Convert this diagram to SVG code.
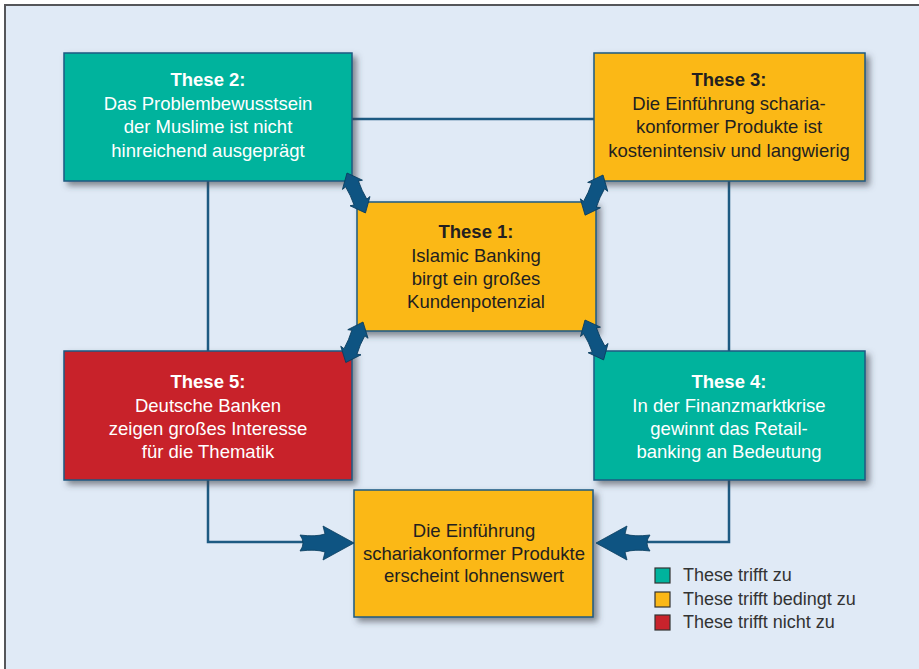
<svg xmlns="http://www.w3.org/2000/svg" width="919" height="669" viewBox="0 0 919 669">
<defs>
<filter id="sh" x="-10%" y="-10%" width="125%" height="130%">
<feDropShadow dx="4" dy="4" stdDeviation="3" flood-color="#3a3f4a" flood-opacity="0.6"/>
</filter>
<path id="dbl" d="M0,0 L13,-11 L12,-7 Q22,-6 32,-7 L31,-11 L44,0 L31,11 L32,7 Q22,6 12,7 L13,11 Z"/>
<path id="blk" d="M0,-8 Q16,-6 25,-9 L23,-17 L54,0 L23,17 L25,9 Q16,6 0,8 Q6,0 0,-8 Z"/>
</defs>
<style>
.bg{fill:#e0eaf6}
.box{stroke:#1d5a82;stroke-width:1.5;filter:url(#sh)}
.teal{fill:#00b39d}
.orange{fill:#fbb817}
.red{fill:#c8232c}
.t{font-family:"Liberation Sans",Arial,sans-serif;font-size:18.5px;text-anchor:middle}
.w{fill:#ffffff}
.d{fill:#231f20}
.b{font-weight:bold}
.conn{fill:none;stroke:#1d5a82;stroke-width:2.5}
.arr{fill:#0e5482;stroke:#0a3d5e;stroke-width:0.8}
.leg{font-family:"Liberation Sans",Arial,sans-serif;font-size:18px;fill:#333333}
.sq{stroke:#333333;stroke-width:1.2}
</style>
<rect x="5" y="5" width="1000" height="1000" class="bg" stroke="#55565a" stroke-width="2"/>
<g id="connectors">
<line x1="352" y1="119" x2="594" y2="119" class="conn"/>
<line x1="208" y1="181" x2="208" y2="351" class="conn"/>
<line x1="729" y1="181" x2="729" y2="351" class="conn"/>
<polyline points="208,480 208,542 305,542" class="conn"/>
<polyline points="729,480 729,542 640,542" class="conn"/>
</g>
<g id="these2"><rect x="64" y="53" width="288" height="128" class="box teal"/>
<text class="t w b" x="208" y="86">These 2:</text>
<text class="t w" x="208" y="110">Das Problembewusstsein</text>
<text class="t w" x="208" y="133">der Muslime ist nicht</text>
<text class="t w" x="208" y="157">hinreichend ausgeprägt</text></g>
<g id="these3"><rect x="594" y="53" width="271" height="128" class="box orange"/>
<text class="t d b" x="729" y="86">These 3:</text>
<text class="t d" x="729" y="110">Die Einführung scharia-</text>
<text class="t d" x="729" y="133">konformer Produkte ist</text>
<text class="t d" x="729" y="157">kostenintensiv und langwierig</text></g>
<g id="these5"><rect x="64" y="351" width="288" height="129" class="box red"/>
<text class="t w b" x="208" y="388">These 5:</text>
<text class="t w" x="208" y="412">Deutsche Banken</text>
<text class="t w" x="208" y="435">zeigen großes Interesse</text>
<text class="t w" x="208" y="458">für die Thematik</text></g>
<g id="these4"><rect x="594" y="351" width="271" height="129" class="box teal"/>
<text class="t w b" x="729" y="388">These 4:</text>
<text class="t w" x="729" y="412">In der Finanzmarktkrise</text>
<text class="t w" x="729" y="435">gewinnt das Retail-</text>
<text class="t w" x="729" y="458">banking an Bedeutung</text></g>
<g id="these1"><rect x="357" y="202" width="239" height="129" class="box orange"/>
<text class="t d b" x="476" y="238">These 1:</text>
<text class="t d" x="476" y="262">Islamic Banking</text>
<text class="t d" x="476" y="285">birgt ein großes</text>
<text class="t d" x="476" y="308">Kundenpotenzial</text></g>
<g id="result"><rect x="354" y="490" width="239" height="127" class="box orange"/>
<text class="t d" x="474" y="537">Die Einführung</text>
<text class="t d" x="474" y="560">schariakonformer Produkte</text>
<text class="t d" x="474" y="582">erscheint lohnenswert</text></g>
<g id="arrows">
<use href="#dbl" class="arr" transform="translate(347,173) rotate(65.2)"/>
<use href="#dbl" class="arr" transform="translate(603,175) rotate(114)"/>
<use href="#dbl" class="arr" transform="translate(363,322) rotate(113)"/>
<use href="#dbl" class="arr" transform="translate(585,320) rotate(65)"/>
<use href="#blk" class="arr" transform="translate(300,543)"/>
<use href="#blk" class="arr" transform="translate(650,543) rotate(180)"/>
</g>
<g id="legend">
<rect x="655" y="568" width="15" height="15" class="sq teal"/>
<rect x="655" y="592" width="15" height="15" class="sq orange"/>
<rect x="655" y="615" width="15" height="15" class="sq red"/>
<text class="leg" x="683" y="581">These trifft zu</text>
<text class="leg" x="683" y="605">These trifft bedingt zu</text>
<text class="leg" x="683" y="628">These trifft nicht zu</text>
</g>
</svg>
